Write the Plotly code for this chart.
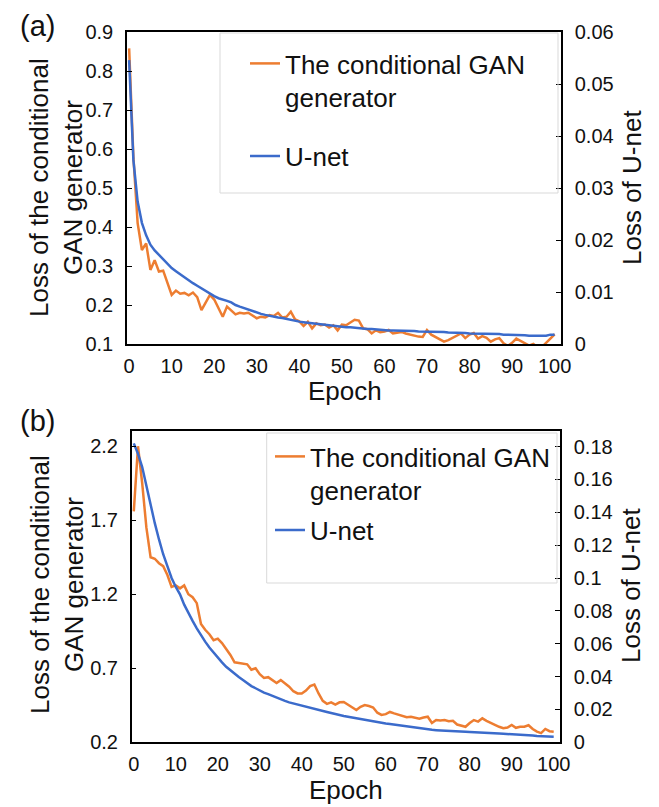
import plotly.graph_objects as go

# ---------------- data ----------------
epochs = list(range(0, 101))
x_tick_vals = [0, 10, 20, 30, 40, 50, 60, 70, 80, 90, 100]
x_tick_text = ["0", "10", "20", "30", "40", "50", "60", "70", "80", "90", "100"]

# (a) left axis ticks / right axis ticks
a_left_ticks = [0.1, 0.2, 0.3, 0.4, 0.5, 0.6, 0.7, 0.8, 0.9]
a_left_text = ["0.1", "0.2", "0.3", "0.4", "0.5", "0.6", "0.7", "0.8", "0.9"]
a_right_ticks = [0, 0.01, 0.02, 0.03, 0.04, 0.05, 0.06]
a_right_text = ["0", "0.01", "0.02", "0.03", "0.04", "0.05", "0.06"]

# (b) left axis ticks / right axis ticks
b_left_ticks = [0.2, 0.7, 1.2, 1.7, 2.2]
b_left_text = ["0.2", "0.7", "1.2", "1.7", "2.2"]
b_right_ticks = [0, 0.02, 0.04, 0.06, 0.08, 0.1, 0.12, 0.14, 0.16, 0.18]
b_right_text = ["0", "0.02", "0.04", "0.06", "0.08", "0.1", "0.12", "0.14", "0.16", "0.18"]

# (a) loss of the conditional GAN generator (left axis)
a_gan = [0.858, 0.58, 0.41, 0.341, 0.358, 0.29, 0.315, 0.286, 0.288, 0.258,
         0.226, 0.237, 0.229, 0.231, 0.225, 0.232, 0.22, 0.187, 0.208, 0.226,
         0.214, 0.19, 0.17, 0.196, 0.185, 0.176, 0.18, 0.178, 0.18, 0.174,
         0.166, 0.17, 0.168, 0.174, 0.172, 0.18, 0.168, 0.17, 0.183, 0.163,
         0.158, 0.146, 0.157, 0.14, 0.153, 0.148, 0.15, 0.142, 0.148, 0.135,
         0.15, 0.148, 0.155, 0.162, 0.16, 0.14, 0.138, 0.127, 0.135, 0.13,
         0.132, 0.136, 0.127, 0.13, 0.131, 0.127, 0.124, 0.122, 0.119, 0.118,
         0.136, 0.124, 0.118, 0.112, 0.106, 0.11, 0.116, 0.12, 0.127, 0.115,
         0.124, 0.128, 0.114, 0.12, 0.116, 0.106, 0.112, 0.115, 0.102, 0.095,
         0.103, 0.114, 0.108, 0.1, 0.096, 0.1, 0.092, 0.092, 0.104, 0.114, 0.125]

# (a) loss of U-net (right axis)
a_unet = [0.0546, 0.0354, 0.0274, 0.0233, 0.0209, 0.0191, 0.018, 0.0171, 0.0162, 0.0154,
          0.0146, 0.014, 0.0134, 0.0128, 0.0122, 0.0117, 0.0112, 0.0107, 0.0101, 0.0096,
          0.0092, 0.0088, 0.0086, 0.0083, 0.008, 0.0075, 0.0072, 0.0069, 0.0066, 0.0063,
          0.006, 0.0058, 0.0056, 0.0054, 0.0053, 0.0051, 0.005, 0.0048, 0.0047, 0.0044,
          0.0043, 0.0042, 0.0041, 0.0039, 0.0038, 0.0037, 0.0036, 0.0035, 0.0035, 0.0034,
          0.0033, 0.0032, 0.0032, 0.0031, 0.003, 0.0029, 0.0029, 0.0029, 0.0028, 0.0027,
          0.0027, 0.0026, 0.0026, 0.0026, 0.0026, 0.0025, 0.0025, 0.0025, 0.0024, 0.0024,
          0.0024, 0.0023, 0.0023, 0.0023, 0.0023, 0.0022, 0.0022, 0.0021, 0.0021, 0.0021,
          0.002, 0.002, 0.002, 0.002, 0.002, 0.002, 0.0019, 0.0019, 0.0018, 0.0018,
          0.0017, 0.0017, 0.0017, 0.0017, 0.0016, 0.0016, 0.0016, 0.0016, 0.0016, 0.0018, 0.0018]

# (b) loss of the conditional GAN generator (left axis)
b_gan = [1.76, 2.2, 1.95, 1.65, 1.45, 1.44, 1.41, 1.39, 1.33, 1.25,
         1.26, 1.24, 1.26, 1.2, 1.18, 1.14, 1.0, 0.96, 0.93, 0.89,
         0.9, 0.87, 0.83, 0.79, 0.74, 0.735, 0.735, 0.727, 0.69, 0.7,
         0.66, 0.635, 0.64, 0.62, 0.6, 0.62, 0.6, 0.576, 0.545, 0.53,
         0.53, 0.55, 0.58, 0.59, 0.53, 0.48, 0.46, 0.47, 0.455, 0.47,
         0.472, 0.455, 0.44, 0.418, 0.44, 0.452, 0.445, 0.435, 0.4, 0.385,
         0.39, 0.405, 0.395, 0.385, 0.38, 0.37, 0.372, 0.365, 0.36, 0.368,
         0.373, 0.33, 0.35, 0.348, 0.35, 0.342, 0.345, 0.32, 0.31, 0.305,
         0.33, 0.35, 0.34, 0.362, 0.345, 0.33, 0.315, 0.305, 0.295, 0.3,
         0.317, 0.298, 0.305, 0.305, 0.315, 0.29, 0.272, 0.262, 0.29, 0.275, 0.272]

# (b) loss of U-net (right axis)
b_unet = [0.182, 0.1757, 0.1676, 0.1559, 0.1442, 0.1334, 0.1235, 0.1145, 0.1072, 0.1,
          0.0946, 0.0901, 0.0838, 0.0784, 0.0739, 0.0694, 0.0649, 0.0613, 0.0577, 0.0545,
          0.0514, 0.0487, 0.046, 0.0437, 0.0415, 0.0397, 0.0379, 0.036, 0.0342, 0.0329,
          0.0315, 0.0302, 0.0293, 0.0282, 0.027, 0.0261, 0.0252, 0.0243, 0.0236, 0.023,
          0.0223, 0.0216, 0.0209, 0.0203, 0.0196, 0.0189, 0.0184, 0.0178, 0.0171, 0.0166,
          0.016, 0.0155, 0.015, 0.0146, 0.0142, 0.0137, 0.0132, 0.0127, 0.0123, 0.0118,
          0.0114, 0.0111, 0.0107, 0.0104, 0.01, 0.0096, 0.0093, 0.0089, 0.0086, 0.0081,
          0.0078, 0.0076, 0.0074, 0.0072, 0.007, 0.0069, 0.0068, 0.0067, 0.0065, 0.0064,
          0.0063, 0.0061, 0.006, 0.0059, 0.0058, 0.0056, 0.0055, 0.0053, 0.0052, 0.0051,
          0.005, 0.0049, 0.0047, 0.0046, 0.0044, 0.0042, 0.0038, 0.0036, 0.0035, 0.0034, 0.0034]

gan_name = "The conditional GAN<br>generator"
unet_name = "U-net"

# ---------------- style ----------------
OFF = 8                      # page body margin of the browser
W, H = 659 - OFF, 807 - OFF
FONT = "Liberation Sans, Arial, sans-serif"
TXT = "#111111"
ORANGE = "#ED7D31"
BLUE = "#3B6BCB"


def px(x):
    return (x - OFF) / W


def py(y):
    return 1 - (y - OFF) / H


fig = go.Figure()
fig.add_trace(go.Scatter(x=epochs, y=a_gan, mode="lines", name=gan_name,
                         line=dict(color=ORANGE, width=2.5),
                         xaxis="x", yaxis="y", legend="legend", legendgroup="a1"))
fig.add_trace(go.Scatter(x=epochs, y=a_unet, mode="lines", name=unet_name,
                         line=dict(color=BLUE, width=2.5),
                         xaxis="x", yaxis="y2", legend="legend", legendgroup="a2"))
fig.add_trace(go.Scatter(x=epochs, y=b_gan, mode="lines", name=gan_name,
                         line=dict(color=ORANGE, width=2.5),
                         xaxis="x2", yaxis="y3", legend="legend2", legendgroup="b1"))
fig.add_trace(go.Scatter(x=epochs, y=b_unet, mode="lines", name=unet_name,
                         line=dict(color=BLUE, width=2.5),
                         xaxis="x2", yaxis="y4", legend="legend2", legendgroup="b2"))

tickfont = dict(family=FONT, size=20, color=TXT)
common_x = dict(range=[-0.5, 101.5], tickvals=x_tick_vals, ticktext=x_tick_text,
                showline=True, linecolor="black", linewidth=1.5, mirror=True,
                ticks="", showgrid=False, zeroline=False, tickfont=tickfont,
                ticklabelstandoff=3, automargin=False)
common_y = dict(showline=True, linecolor="black", linewidth=1.5, ticks="inside",
                ticklen=5, tickcolor="black", showgrid=False, zeroline=False,
                tickfont=tickfont, ticklabelstandoff=8, automargin=False)

dom_a_x = [px(127), px(561)]
dom_a_y = [py(344), py(32)]
dom_b_x = [px(131.7), px(560)]
dom_b_y = [py(742.3), py(430.7)]

legend_common = dict(xanchor="left", yanchor="top", bgcolor="rgba(0,0,0,0)",
                     borderwidth=0, valign="top", itemwidth=30,
                     font=dict(family=FONT, size=26, color=TXT))

fig.update_layout(
    width=W, height=H, autosize=False,
    margin=dict(l=0, r=0, t=0, b=0, autoexpand=False),
    paper_bgcolor="white", plot_bgcolor="white",
    font=dict(family=FONT, color=TXT),
    showlegend=True,
    xaxis=dict(domain=dom_a_x, anchor="y", **common_x),
    yaxis=dict(domain=dom_a_y, anchor="x", range=[0.1, 0.9],
               tickvals=a_left_ticks, ticktext=a_left_text, **common_y),
    yaxis2=dict(overlaying="y", side="right", anchor="x", range=[0, 0.06],
                tickvals=a_right_ticks, ticktext=a_right_text, **common_y),
    xaxis2=dict(domain=dom_b_x, anchor="y3", **common_x),
    yaxis3=dict(domain=dom_b_y, anchor="x2", range=[0.2, 2.305],
                tickvals=b_left_ticks, ticktext=b_left_text, **common_y),
    yaxis4=dict(overlaying="y3", side="right", anchor="x2", range=[0, 0.1897],
                tickvals=b_right_ticks, ticktext=b_right_text, **common_y),
    legend=dict(x=px(245), y=py(40), tracegroupgap=22, **legend_common),
    legend2=dict(x=px(270), y=py(433), tracegroupgap=3, **legend_common),
    shapes=[
        dict(type="rect", xref="paper", yref="paper",
             x0=px(220), x1=px(558), y0=py(193), y1=py(33),
             line=dict(color="#d9d9d9", width=1), fillcolor="rgba(0,0,0,0)"),
        dict(type="rect", xref="paper", yref="paper",
             x0=px(266.7), x1=px(557), y0=py(583), y1=py(433),
             line=dict(color="#d9d9d9", width=1), fillcolor="rgba(0,0,0,0)"),
    ],
)

title_font = dict(family=FONT, size=26, color=TXT)
annos = [
    dict(text="(a)", x=px(37), y=py(26), font=dict(family=FONT, size=29, color=TXT)),
    dict(text="(b)", x=px(37), y=py(421), font=dict(family=FONT, size=29, color=TXT)),
    dict(text="Loss of the conditional<br>GAN generator", x=px(56), y=py(188),
         textangle=-90, font=title_font),
    dict(text="Loss of the conditional<br>GAN generator", x=px(57), y=py(585),
         textangle=-90, font=title_font),
    dict(text="Loss of U-net", x=px(632), y=py(188), textangle=-90, font=title_font),
    dict(text="Loss of U-net", x=px(631), y=py(586), textangle=-90, font=title_font),
    dict(text="Epoch", x=px(345), y=py(391), font=title_font),
    dict(text="Epoch", x=px(346), y=py(790), font=title_font),
]
for a in annos:
    fig.add_annotation(xref="paper", yref="paper", showarrow=False,
                       xanchor="center", yanchor="middle", **a)

fig.write_html("out.html")
